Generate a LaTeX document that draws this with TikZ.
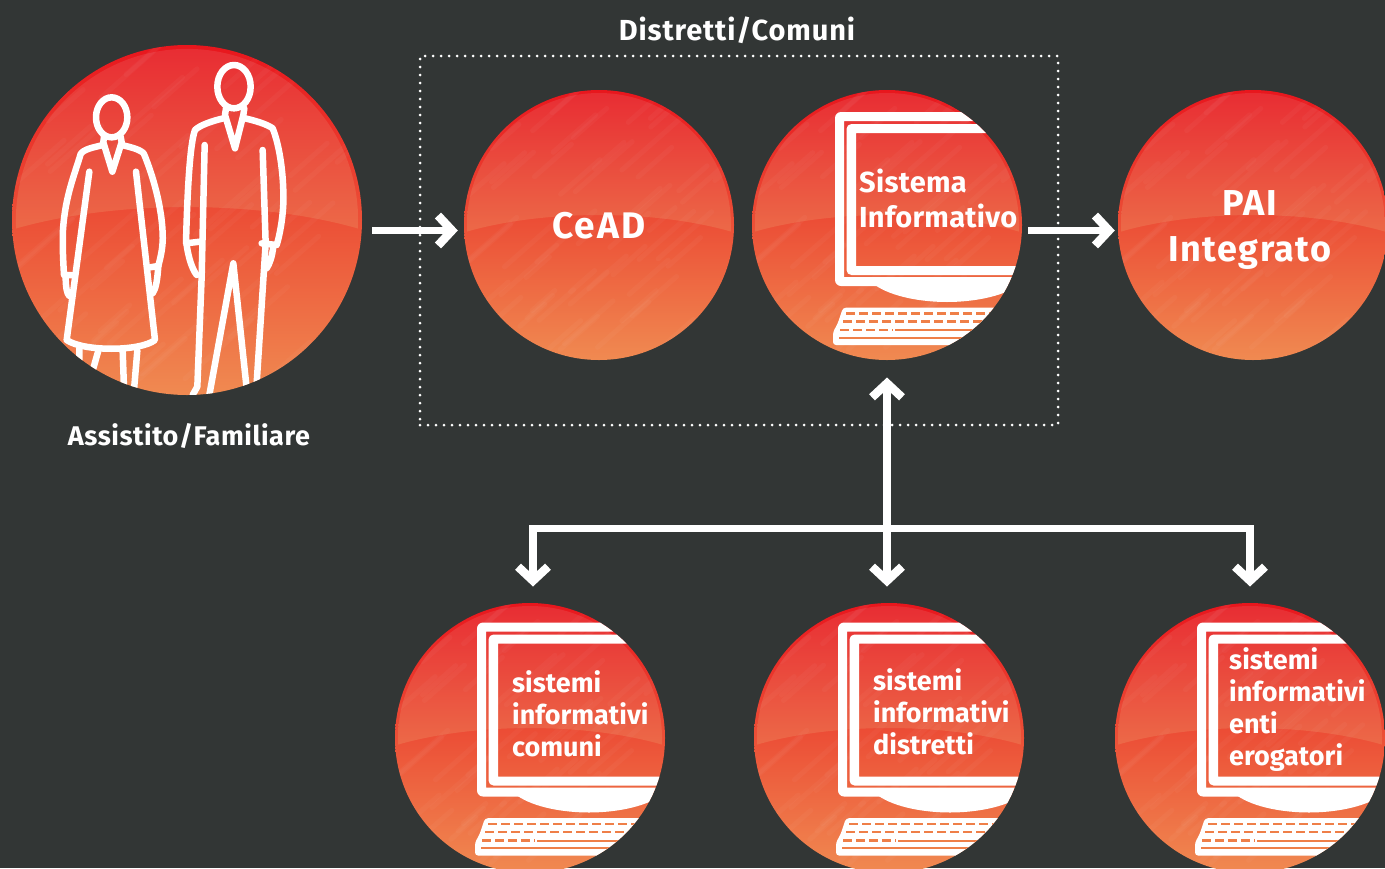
\documentclass[tikz,border=0pt]{standalone}
\usepackage{fontspec}
\setmainfont{Fira Sans}
\usetikzlibrary{arrows.meta,calc}
\definecolor{bgc}{HTML}{323635}
\definecolor{ballTop}{HTML}{E8141C}
\definecolor{ballMid}{HTML}{EC5A2A}
\definecolor{ballBot}{HTML}{F08C52}
\definecolor{glossTop}{HTML}{E82A32}
\definecolor{glossBot}{HTML}{EC6A48}
\definecolor{keygap}{HTML}{EF7F48}
% #1 node name, #2 radius, #3 artwork drawn on top, clipped to the ball
\newcommand\ballfill[3]{%
  \pgfmathsetmacro\ballsc{#2/135}%
  \begin{scope}[shift={(#1.center)}]
    \clip (0,0) circle (#2);
    \begin{scope}[x=\ballsc pt,y=-\ballsc pt]
    \shade[top color=ballTop,middle color=ballMid,bottom color=ballBot] (-140,-140) rectangle (140,140);
    \begin{scope}
      \clip (0,0) circle (132);
      \shade[top color=glossTop,bottom color=glossBot] (-140,-140) -- (140,-140) -- (140,9) .. controls (60,-16.3) and (-60,-16.3) .. (-140,9) -- cycle;
    \end{scope}
    \pgfmathsetseed{4242}
    \foreach \k in {1,...,60}{
      \pgfmathsetmacro\px{rand*130}
      \pgfmathsetmacro\py{rand*130}
      \pgfmathsetmacro\pl{15+25*abs(rand)}
      \draw[white,opacity=.03,line width=5pt,line cap=round]
        ({\px-\pl*0.75},{\py+\pl*0.66}) -- ({\px+\pl*0.75},{\py-\pl*0.66});
    }
    \end{scope}
    #3
  \end{scope}}
\newcommand\monitorart[2]{%
  \begin{scope}[shift={(#1,#2)}]
    \fill[white,even odd rule] [rounded corners=6pt] (-52,-113) rectangle (220,61) [sharp corners] (-43,-104) rectangle (220,52);
    \fill[white,even odd rule] [rounded corners=5pt] (-40.5,-101) rectangle (220,50) [sharp corners] (-31,-92) rectangle (220,41);
    \fill[white] (-12,60) .. controls (5,72) and (35,77) .. (60,77) .. controls (85,77) and (115,72) .. (132,60) -- cycle;
    \fill[white,rounded corners=3pt] (-44,82.7) -- (220,82.7) -- (220,120) -- (-54,120) -- (-54,107) -- (-49.5,99) -- cycle;
    \draw[keygap,line width=2.6pt,dash pattern=on 9pt off 4pt] (-41,88.3) -- (200,88.3);
    \draw[keygap,line width=2.6pt,dash pattern=on 9pt off 4pt] (-44,96.5) -- (200,96.5);
    \draw[keygap,line width=2.6pt,dash pattern=on 9pt off 4pt] (-47,105) -- (6,105);
    \draw[keygap,line width=2pt] (8,105) -- (200,105);
    \draw[keygap,line width=2pt] (-48,112.7) -- (200,112.7);
  \end{scope}}
\newcommand\peopleart{%
  \begin{scope}[shift={(-187,-190)},x=0.33333pt,y=-0.33333pt,white,line width=6.5pt,line cap=round,line join=round]
    % woman
    \draw (335,262) ellipse [x radius=47,y radius=60];
    \draw (312,320) -- (310,337) -- (337,425) -- (365,337) -- (362,320);
    \draw (310,345) .. controls (280,352) and (250,358) .. (242,372) .. controls (225,430) and (195,500) .. (189,600) .. controls (187,650) and (190,700) .. (192,735) -- (215,735);
    \draw (197,738) .. controls (197,770) and (200,790) .. (208,798);
    \draw (268,425) -- (200,930) .. controls (250,965) and (420,965) .. (465,930) -- (408,425);
    \draw (365,345) .. controls (395,352) and (425,360) .. (432,372) .. controls (460,440) and (485,530) .. (488,610) .. controls (490,650) and (482,680) .. (475,708) -- (450,712);
    \draw (475,708) .. controls (472,750) and (468,775) .. (458,790);
    \draw (238,955) -- (238,990) (295,962) -- (280,1015) (368,962) -- (372,1075) (412,962) -- (402,1080);
    % man
    \draw (702,170) ellipse [x radius=50,y radius=65];
    \draw (678,235) -- (675,255) -- (705,355) -- (730,255) -- (733,235);
    \draw (670,265) .. controls (640,272) and (600,285) .. (585,300) .. controls (570,340) and (562,480) .. (558,640) -- (600,635);
    \draw (560,645) .. controls (565,680) and (575,715) .. (590,735);
    \draw (614,345) -- (605,740) -- (592,1070) -- (578,1095);
    \draw (735,265) .. controls (765,272) and (800,282) .. (818,295) .. controls (840,350) and (852,440) .. (850,520) .. controls (848,570) and (838,620) .. (830,645) -- (785,640);
    \draw (820,650) .. controls (816,680) and (810,700) .. (800,715);
    \draw (788,360) -- (797,640) -- (770,1060);
    \draw (628,1095) -- (700,700) -- (740,1075);
  \end{scope}}
\tikzset{
  x=1pt,y=-1pt,
  chev/.tip={Straight Barb[length=14pt,width=30pt,line width=8.5pt]},
  ball/.style={circle,minimum size=2*#1,inner sep=0pt},
  flow/.style={white,line width=7.5pt,-chev},
  flowboth/.style={white,line width=7.5pt,chev-chev},
  plainline/.style={white,line width=7.5pt,line cap=rect},
  dotbox/.style={draw=white,line width=3pt,line cap=round,dash pattern=on 0pt off 8pt,inner sep=0pt},
  lab/.style={white,inner sep=0pt},
  balltxt/.style={white,inner sep=0pt,align=center},
  scrtxt/.style={white,font=\fontsize{27}{32}\selectfont\bfseries,inner sep=0pt,align=left,anchor=west},
}
\begin{document}
\begin{tikzpicture}
\useasboundingbox (0,0) rectangle (1385,868);
\fill[bgc] (0,0) rectangle (1385,868);
\node[ball=175] (people) at (187,220) {};
\node[ball=135] (cead) at (599,225) {};
\node[ball=135] (sist) at (887,225) {};
\node[ball=135] (pai) at (1253,225) {};
\node[ball=135] (sc) at (530,738) {};
\node[ball=135] (sd) at (889,738) {};
\node[ball=135] (se) at (1250,738) {};
\ballfill{people}{175}{\peopleart}
\ballfill{cead}{135}{}
\ballfill{sist}{135}{\monitorart{0}{0}}
\ballfill{pai}{135}{}
\ballfill{sc}{135}{\monitorart{-1}{-2.5}}
\ballfill{sd}{135}{\monitorart{1}{-2.5}}
\ballfill{se}{135}{\monitorart{-1}{-2.5}}
\node[dotbox,minimum width=638pt,minimum height=369pt] (box) at (739,240.5) {};
\node[lab,font=\fontsize{29}{34}\selectfont\bfseries\addfontfeature{LetterSpace=3}] (t1) at (737,30) {Distretti/Comuni};
\node[lab,font=\fontsize{27}{32}\selectfont\bfseries\addfontfeature{LetterSpace=2}] (t2) at (189,436) {Assistito/Familiare};
\node[balltxt,font=\fontsize{37}{44}\selectfont\bfseries\addfontfeature{LetterSpace=6}] (t3) at (599,226) {CeAD};
\node[balltxt,font=\fontsize{36}{46}\selectfont\bfseries\addfontfeature{LetterSpace=4}] (t4) at (1250,230) {PAI\\Integrato};
\node[white,font=\fontsize{29}{35}\selectfont\bfseries\addfontfeature{LetterSpace=1},inner sep=0pt,align=left,anchor=west] (t5) at (859,198) {Sistema\\Informativo};
\node[scrtxt] (t6) at (512,714) {sistemi\\informativi\\comuni};
\node[scrtxt] (t7) at (873,712) {sistemi\\informativi\\distretti};
\node[scrtxt] (t8) at (1229,710) {sistemi\\informativi\\enti\\erogatori};
\coordinate (hub) at (sist |- 0,528.7);
\draw[flow] ($(people.east)+(10,10.5)$) -- ($(cead.west)+(-6,5.5)$);
\draw[flow] ($(sist.east)+(6,5.5)$) -- ($(pai.west)+(-3,5.5)$);
\draw[flowboth] ($(sist.south)+(0,17.3)$) -- ($(sist.south |- sd.north)+(0,-16.3)$);
\draw[plainline] ($(sc.north |- hub)+(3,0)$) -- (se.north |- hub);
\draw[flow] ($(sc.north |- hub)+(3,-3.7)$) -- ($(sc.north)+(3,-16.3)$);
\draw[flow] ($(se.north |- hub)+(0,-3.7)$) -- ($(se.north)+(0,-16.3)$);
\end{tikzpicture}
\end{document}
